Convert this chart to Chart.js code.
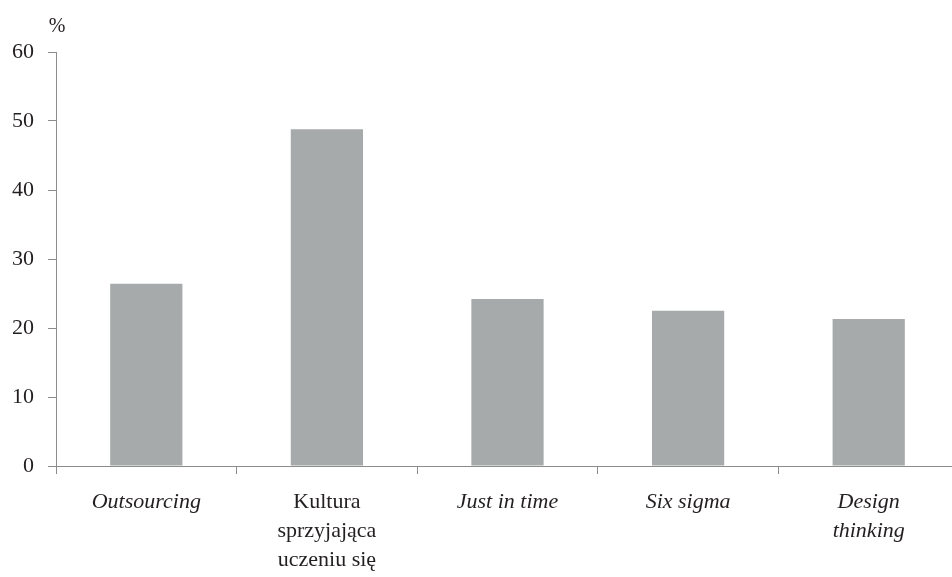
<!DOCTYPE html>
<html><head><meta charset="utf-8">
<script src="https://cdn.jsdelivr.net/npm/chart.js@4/dist/chart.umd.min.js"></script>
<style>html,body{margin:0;padding:0;background:#fff;overflow:hidden}#wrap{width:960px;height:577px}</style>
</head><body><div id="wrap"><canvas id="c" width="960" height="577"></canvas></div>
<script>
const categories = [["Outsourcing"], ["Kultura", "sprzyjająca", "uczeniu się"], ["Just in time"], ["Six sigma"], ["Design", "thinking"]];
const italicLabels = [true, false, true, true, true];
const values = [26.4, 48.8, 24.2, 22.5, 21.3];
const yTicks = [0, 10, 20, 30, 40, 50, 60];
const unitLabel = "%";

const FONT = "'Liberation Serif', 'DejaVu Serif', serif";
const TEXT = '#231f20';
const AXIS = '#8c8c8c';

const unitPlugin = {
  id: 'unit',
  afterDraw(chart) {
    const ctx = chart.ctx;
    const y = chart.scales.y;
    ctx.save();
    ctx.font = "20px " + FONT;
    ctx.fillStyle = TEXT;
    ctx.textAlign = 'center';
    ctx.textBaseline = 'alphabetic';
    ctx.fillText(unitLabel, y.right + 1, y.top - 20);
    ctx.restore();
  }
};

new Chart(document.getElementById('c'), {
  type: 'bar',
  data: {
    labels: categories,
    datasets: [{ data: values, backgroundColor: '#a7aaaa', borderWidth: 0, barPercentage: 0.4, categoryPercentage: 1.0 }]
  },
  options: {
    responsive: false,
    animation: false,
    layout: { padding: { top: 52, right: 1, left: 0, bottom: 0 } },
    plugins: { legend: { display: false }, tooltip: { enabled: false } },
    scales: {
      x: {
        offset: true,
        grid: { display: true, drawOnChartArea: false, drawTicks: true, tickLength: 8, color: AXIS, offset: true },
        border: { display: true, color: AXIS, width: 1 },
        ticks: {
          color: TEXT, padding: 14, maxRotation: 0, autoSkip: false,
          font: (c) => ({ family: FONT, size: 22, lineHeight: '29px', style: italicLabels[c.index] ? 'italic' : 'normal' })
        },
        afterFit(s) { s.height = 111; }
      },
      y: {
        min: 0, max: 60,
        afterBuildTicks(s) { s.ticks = yTicks.map(v => ({ value: v })); },
        grid: { display: true, drawOnChartArea: false, drawTicks: true, tickLength: 8, color: AXIS },
        border: { display: true, color: AXIS, width: 1 },
        ticks: { color: TEXT, padding: 14, font: { family: FONT, size: 22 } },
        afterFit(s) { s.width = 56; }
      }
    }
  },
  plugins: [unitPlugin]
});
</script></body></html>
